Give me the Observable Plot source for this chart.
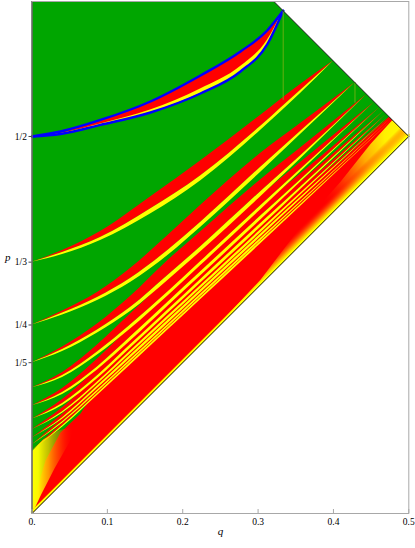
<!DOCTYPE html>
<html><head><meta charset="utf-8">
<script src="https://cdn.jsdelivr.net/npm/d3@7"></script>
<script src="https://cdn.jsdelivr.net/npm/@observablehq/plot@0.6"></script>
<style>body{margin:0;background:#fff}</style>
</head><body><div id="chart"></div>
<script>
// ---- axis / domain data ----
const yMax = 0.679;
const xTicks = [0, 0.1, 0.2, 0.3, 0.4, 0.5];
const xTickLabels = ["0.", "0.1", "0.2", "0.3", "0.4", "0.5"];
const yTicks = [1/2, 1/3, 1/4, 1/5];
const yTickLabels = ["1/2", "1/3", "1/4", "1/5"];

// region (triangle q<=p<=1-q, clipped at top)
const triQ = [0, 0, 1 - yMax, 0.5];
const triP = [0, yMax, yMax, 0.5];

// 1/2 tongue (lens bounded by blue curves)
const lensQ = [0, 0.0378, 0.0909, 0.1572, 0.2236, 0.2767, 0.3121, 0.3333];
const lensUpper = [0.5, 0.5066, 0.5219, 0.5464, 0.5809, 0.6127, 0.6406, 0.6667];
const lensLower = [0.5, 0.5033, 0.5153, 0.5318, 0.5570, 0.5862, 0.6220, 0.6667];
const lensYellow = [0.5, 0.5040, 0.5166, 0.5351, 0.5630, 0.5928, 0.6273, 0.6667];

// tongues 1/n : q samples, yellow bottom, yellow top (= red bottom), red top
const q3 = [0, 0.0405, 0.0909, 0.1572, 0.2236, 0.3032, 0.3563, 0.4];
const low3 = [0.3333, 0.3435, 0.3621, 0.3972, 0.4410, 0.5080, 0.5570, 0.6];
const mid3 = [0.3333, 0.3462, 0.3660, 0.4038, 0.4476, 0.5133, 0.5610, 0.6];
const top3 = [0.3333, 0.3488, 0.3740, 0.4198, 0.4675, 0.5279, 0.5690, 0.6];

const qGrid = [0, 0.0405, 0.0869, 0.1307, 0.1811, 0.2236, 0.3032, 0.3563];
const tipQ = {4: 0.4286, 5: 0.4444, 6: 0.4545, 7: 0.4615, 8: 0.4667, 9: 0.4706, 10: 0.4737, 11: 0.4762, 12: 0.4783};

const low4 = [0.25, 0.2633, 0.2825, 0.3064, 0.3428, 0.3793, 0.4523, 0.5027, 0.5714];
const mid4 = [0.25, 0.2659, 0.2865, 0.3117, 0.3495, 0.3859, 0.4589, 0.5066, 0.5714];
const top4 = [0.25, 0.2686, 0.2931, 0.3249, 0.3694, 0.4085, 0.4775, 0.5172, 0.5714];

const low5 = [0.2, 0.2149, 0.2394, 0.2679, 0.3097, 0.3468, 0.4198, 0.4702, 0.5556];
const mid5 = [0.2, 0.2175, 0.2434, 0.2732, 0.3163, 0.3534, 0.4264, 0.4741, 0.5556];
const top5 = [0.2, 0.2208, 0.2513, 0.2878, 0.3362, 0.3733, 0.4423, 0.4847, 0.5556];

const low6 = [0.1667, 0.1804, 0.2102, 0.2447, 0.2891, 0.3285, 0.4025, 0.4529, 0.5455];
const mid6 = [0.1667, 0.1830, 0.2142, 0.2500, 0.2944, 0.3338, 0.4078, 0.4561, 0.5455];
const top6 = [0.1667, 0.1870, 0.2235, 0.2646, 0.3117, 0.3511, 0.4211, 0.4654, 0.5455];

const low7 = [0.1429, 0.1578, 0.1903, 0.2286, 0.2755, 0.3149, 0.3889, 0.4393, 0.5385];
const mid7 = [0.1429, 0.1605, 0.1943, 0.2340, 0.2808, 0.3202, 0.3942, 0.4424, 0.5385];
const top7 = [0.1429, 0.1658, 0.2049, 0.2472, 0.2954, 0.3347, 0.4061, 0.4504, 0.5385];

const low8 = [0.125, 0.1432, 0.1786, 0.2190, 0.2658, 0.3053, 0.3793, 0.4294, 0.5333];
const mid8 = [0.125, 0.1459, 0.1826, 0.2237, 0.2706, 0.3101, 0.3841, 0.4326, 0.5333];
const top8 = [0.125, 0.1512, 0.1919, 0.2344, 0.2825, 0.3220, 0.3934, 0.4393, 0.5333];

const low9 = [0.1111, 0.1329, 0.1714, 0.2117, 0.2585, 0.2980, 0.3720, 0.4220, 0.5294];
const mid9 = [0.1111, 0.1350, 0.1745, 0.2156, 0.2625, 0.3020, 0.3760, 0.4247, 0.5294];
const top9 = [0.1111, 0.1403, 0.1825, 0.2249, 0.2718, 0.3113, 0.3840, 0.4306, 0.5294];

const low10 = [0.1, 0.1249, 0.1658, 0.2060, 0.2528, 0.2923, 0.3663, 0.4163, 0.5263];
const mid10 = [0.1, 0.1271, 0.1690, 0.2099, 0.2568, 0.2963, 0.3703, 0.4190, 0.5263];
const top10 = [0.1, 0.1317, 0.1756, 0.2179, 0.2647, 0.3042, 0.3769, 0.4243, 0.5263];

const low11 = [0.0909, 0.1198, 0.1607, 0.2011, 0.2479, 0.2874, 0.3614, 0.4113, 0.5238];
const mid11 = [0.0909, 0.1216, 0.1634, 0.2042, 0.2511, 0.2906, 0.3646, 0.4134, 0.5238];
const top11 = [0.0909, 0.1256, 0.1687, 0.2109, 0.2577, 0.2972, 0.3699, 0.4174, 0.5238];

const low12 = [0.0833, 0.1145, 0.1566, 0.1971, 0.2439, 0.2834, 0.3574, 0.4073, 0.5217];
const mid12 = [0.0833, 0.1163, 0.1593, 0.2003, 0.2471, 0.2866, 0.3606, 0.4094, 0.5217];
const top12 = [0.0833, 0.1196, 0.1639, 0.2056, 0.2524, 0.2919, 0.3653, 0.4127, 0.5217];

// bulk red region next to the diagonal (outline)
const bulkQ = [0, 0.5, 0.4737, 0.4492, 0.4094, 0.3563, 0.3032, 0.2236, 0.1811, 0.1307, 0.1002, 0.0644, 0.0378, 0.0179, 0.0060, 0];
const bulkP = [0, 0.5, 0.5263, 0.5040, 0.4668, 0.4284, 0.3912, 0.3223, 0.2825, 0.2228, 0.1870, 0.1326, 0.1074, 0.0703, 0.0305, 0.0106];

// glow near the (1/2,1/2) corner
const glowQ = [0.2, 0.5, 0.4783, 0.4492, 0.4094, 0.3563, 0.3032];
const glowP = [0.2, 0.5, 0.5217, 0.49, 0.44, 0.38, 0.31];

// yellow fan near the origin
const fanQ = [0, 0, 0.015, 0.035, 0.055, 0.05, 0.03, 0.012, 0.004];
const fanP = [0.004, 0.083, 0.098, 0.11, 0.115, 0.095, 0.06, 0.025, 0.008];

// faint vertical lines below tongue tips
const faintQ = [1/3, 3/7];
const faintTop = [0.6667, 0.5714];
const faintBottom = [0.548, 0.544];

// ---- colours ----
const GREEN = "#00a600", RED = "#ff0000", YELLOW = "#ffff00", BLUE = "#0000ff";

const pts = (qs, ps) => qs.map((q, i) => ({q, p: ps[i]}));
const band = (qs, lo, mi, to) => qs.map((v, i) => ({q: v, low: lo[i], mid: mi[i], top: to[i]}));
const g = n => [...qGrid, tipQ[n]];
const tongues = [
  band(q3, low3, mid3, top3), band(g(4), low4, mid4, top4), band(g(5), low5, mid5, top5),
  band(g(6), low6, mid6, top6), band(g(7), low7, mid7, top7), band(g(8), low8, mid8, top8),
  band(g(9), low9, mid9, top9), band(g(10), low10, mid10, top10), band(g(11), low11, mid11, top11),
  band(g(12), low12, mid12, top12)
];
const lensRows = lensQ.map((q, i) => ({q, up: lensUpper[i], lo: lensLower[i], ye: lensYellow[i]}));
const faintRows = faintQ.map((q, i) => ({q, top: faintTop[i], bottom: faintBottom[i]}));
const xLab = new Map(xTicks.map((t, i) => [t, xTickLabels[i]]));
const yLab = new Map(yTicks.map((t, i) => [t, yTickLabels[i]]));
const tri = pts(triQ, triP);

const chart = Plot.plot({
  width: 415, height: 548,
  marginLeft: 31.5, marginRight: 6.7, marginTop: 1, marginBottom: 35,
  style: {fontFamily: "'Liberation Serif', 'DejaVu Serif', serif", fontSize: "9.5px", background: "#fff"},
  x: {domain: [0, 0.5]},
  y: {domain: [0, yMax]},
  marks: [
    Plot.line(tri, {x: "q", y: "p", fill: GREEN, stroke: "none"}),
    Plot.line(pts(bulkQ, bulkP), {x: "q", y: "p", fill: RED, stroke: "none"}),
    Plot.line(pts(glowQ, glowP), {x: "q", y: "p", fill: "url(#cornerGlow)", stroke: "none"}),
    Plot.line(pts(glowQ, glowP), {x: "q", y: "p", fill: "url(#diagFringe)", stroke: "none"}),
    ...tongues.map(t => Plot.areaY(t, {x: "q", y1: "mid", y2: "top", fill: RED, curve: "monotone-x"})),
    ...tongues.map(t => Plot.areaY(t, {x: "q", y1: "low", y2: "mid", fill: YELLOW, curve: "monotone-x"})),
    Plot.line(pts(fanQ, fanP), {x: "q", y: "p", fill: "url(#fanGlow)", stroke: "none"}),
    Plot.line([tri[0], tri[3]], {x: "q", y: "p", stroke: YELLOW, strokeWidth: 2.4, dy: -1.6}),
    Plot.areaY(lensRows, {x: "q", y1: "lo", y2: "up", fill: RED, curve: "monotone-x"}),
    Plot.areaY(lensRows, {x: "q", y1: "lo", y2: "ye", fill: YELLOW, curve: "monotone-x"}),
    Plot.line(lensRows, {x: "q", y: "up", stroke: BLUE, strokeWidth: 2.4, curve: "monotone-x"}),
    Plot.line(lensRows, {x: "q", y: "lo", stroke: BLUE, strokeWidth: 2.4, curve: "monotone-x"}),
    Plot.ruleX(faintRows, {x: "q", y1: "top", y2: "bottom", stroke: "#66b010", strokeWidth: 1}),
    Plot.ruleX([0], {stroke: "#000", strokeWidth: 1.2}),
    Plot.line([tri[0], tri[3]], {x: "q", y: "p", stroke: "#1a1a1a", strokeWidth: 1}),
    Plot.line([tri[2], tri[3]], {x: "q", y: "p", stroke: "#1a1a1a", strokeWidth: 1}),
    Plot.frame({stroke: "#a8a8a8"}),
    Plot.ruleX(xTicks, {insetTop: 508, stroke: "#a8a8a8"}),
    Plot.axisX(xTicks, {tickSize: 0, tickPadding: 5, tickFormat: d => xLab.get(d), label: null}),
    Plot.axisY(yTicks, {tickSize: 3, tickPadding: 2, tickFormat: d => yLab.get(d), label: null, stroke: "#444"}),
    Plot.text(["q"], {text: d => d, frameAnchor: "bottom", dy: 21, fontStyle: "italic", fontSize: 11}),
    Plot.text(["p"], {text: d => d, frameAnchor: "left", dx: -27, fontStyle: "italic", fontSize: 11})
  ]
});

const svg = d3.select(chart);
const defs = svg.insert("defs", ":first-child");
const sx = chart.scale("x"), sy = chart.scale("y");
const cx = sx.apply(0.5), cy = sy.apply(0.5);
const rg = defs.append("radialGradient").attr("id", "cornerGlow")
  .attr("gradientUnits", "userSpaceOnUse").attr("cx", cx).attr("cy", cy).attr("r", 110);
[[0, "#ffff00", 1], [0.22, "#fff000", 1], [0.45, "#ffb400", 0.95], [0.7, "#ff6a00", 0.6], [1, "#ff0000", 0]]
  .forEach(([o, c, a]) => rg.append("stop").attr("offset", o).attr("stop-color", c).attr("stop-opacity", a));
const ax = sx.apply(0.4), ay = sy.apply(0.4);
const lg = defs.append("linearGradient").attr("id", "diagFringe")
  .attr("gradientUnits", "userSpaceOnUse").attr("x1", ax).attr("y1", ay)
  .attr("x2", ax - 9).attr("y2", ay - 9);
[[0, "#ffff00", 1], [0.3, "#ffd000", 0.9], [0.65, "#ff7000", 0.5], [1, "#ff0000", 0]]
  .forEach(([o, c, a]) => lg.append("stop").attr("offset", o).attr("stop-color", c).attr("stop-opacity", a));
const fx0 = sx.apply(0), fx1 = sx.apply(0.055);
const fg = defs.append("linearGradient").attr("id", "fanGlow")
  .attr("gradientUnits", "userSpaceOnUse").attr("x1", fx0).attr("y1", 0).attr("x2", fx1).attr("y2", 0);
[[0, "#ffff00", 1], [0.15, "#ffff00", 0.95], [0.4, "#ffc800", 0.75], [0.7, "#ff7000", 0.4], [1, "#ff0000", 0]]
  .forEach(([o, c, a]) => fg.append("stop").attr("offset", o).attr("stop-color", c).attr("stop-opacity", a));

document.getElementById("chart").appendChild(chart);
</script>
</body></html>
